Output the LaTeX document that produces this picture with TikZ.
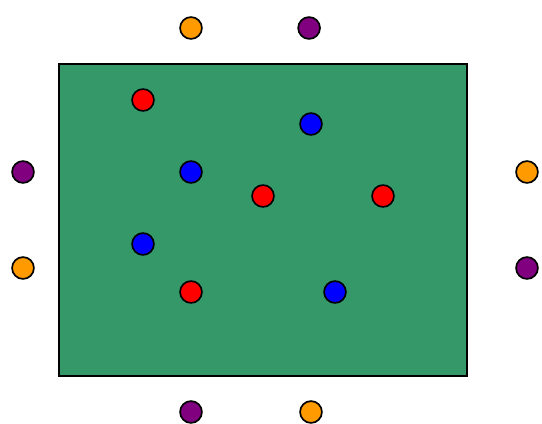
\documentclass[tikz,border=0pt]{standalone}
\usepackage{tikz}
\usepackage{xcolor}
\definecolor{pitch}{RGB}{53,152,104}
\definecolor{orng}{RGB}{255,155,0}
\definecolor{purp}{RGB}{128,0,128}
\begin{document}
\begin{tikzpicture}[x=0.5cm,y=0.5cm,
  ball/.style={circle,draw=black,line width=1pt,inner sep=0pt,minimum size=0.455cm}]
  \useasboundingbox (-0.958,-0.458) rectangle (21.625,17.167);
  \draw[fill=pitch,line width=0.9pt] (1.5,1.5) rectangle (18.5,14.5);
  % outside
  \node[ball,fill=orng] (t1) at (7,16) {}; \node[ball,fill=purp] (t2) at (11.92,16) {};
  \node[ball,fill=purp] (l1) at (0,10) {}; \node[ball,fill=orng] (l2) at (0,6) {};
  \node[ball,fill=orng] (r1) at (21,10) {}; \node[ball,fill=purp] (r2) at (21,6) {};
  \node[ball,fill=purp] (b1) at (7,0) {}; \node[ball,fill=orng] (b2) at (12,0) {};
  % inside
  \node[ball,fill=red] (p1) at (5,13) {}; \node[ball,fill=red] (p2) at (10,9) {};
  \node[ball,fill=red] (p3) at (15,9) {}; \node[ball,fill=red] (p4) at (7,5) {};
  \node[ball,fill=blue] (q1) at (12,12) {}; \node[ball,fill=blue] (q2) at (7,10) {};
  \node[ball,fill=blue] (q3) at (5,7) {}; \node[ball,fill=blue] (q4) at (13,5) {};
\end{tikzpicture}
\end{document}
